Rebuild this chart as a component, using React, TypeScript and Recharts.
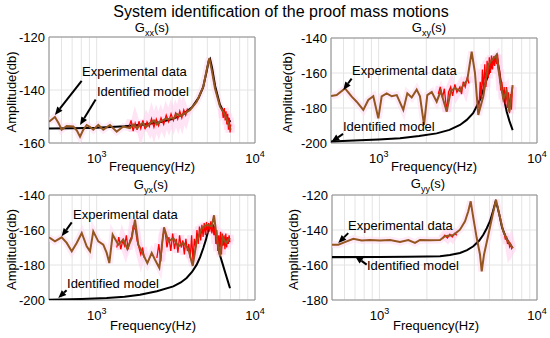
import React from 'react';
import { LineChart, Line, XAxis, YAxis, CartesianGrid, ReferenceLine, ReferenceDot, ReferenceArea } from 'recharts';

type P = [number, number];

const FONT = '"Liberation Sans", Arial, Helvetica, sans-serif';
const W = 550;
const H = 338;

// ---- text ----
const mainTitle = 'System identification of the proof mass motions';
const yLabel = 'Amplitude(db)';
const xLabel = 'Frequency(Hz)';
const expLabel = 'Experimental data';
const modelLabel = 'Identified model';

// ---- axes ----
const freqTicks = [600, 700, 800, 900, 1000, 2000, 3000, 4000, 5000, 6000, 7000, 8000, 9000, 10000];
const freqLabelTicks = [1000, 10000];
const xDomain = [500, 10000];

// ---- Gxx ----
const gxxExp: P[] = [[500,-152],[545,-150.2],[575,-152.5],[601,-155],[647,-153.6],[712,-153.8],[750,-155.3],[785,-157.6],[820,-155.2],[865,-153.2],[910,-154],[952,-155],[1024,-153.2],[1101,-155],[1160,-154],[1214,-153.2],[1338,-155.7],[1473,-153.8],[1624,-154.4],[1700,-153],[1800,-154.5],[1878,-153.2],[1960,-152.5],[2050,-154],[2173,-152.6],[2300,-151.5],[2400,-153],[2512,-152],[2700,-151],[2906,-150.8],[3100,-150.5],[3200,-149],[3360,-149.8],[3600,-148.8],[3888,-147.5],[4284,-144.4],[4717,-138.7],[4953,-132.4],[5145,-128],[5328,-132.4],[5590,-139.4],[6012,-146.3],[6468,-149.4],[6786,-152.6],[7026,-155]];
const gxxRedA: P[] = [[1600,-154],[1650,-151.5],[1700,-155.5],[1750,-152.5],[1800,-155],[1850,-151.8],[1900,-154.5],[1960,-151.5],[2020,-154.8],[2080,-152],[2150,-153.8],[2220,-150.8],[2300,-154],[2380,-151],[2460,-153.5],[2550,-150.5],[2650,-153],[2750,-149.5],[2850,-152],[2950,-149],[3050,-151.5],[3150,-148.8],[3250,-151],[3350,-148],[3450,-150.5],[3550,-147.5],[3650,-149.5],[3750,-147]];
const gxxRedB: P[] = [[6200,-147],[6300,-150.5],[6400,-146.8],[6480,-151.5],[6560,-148],[6640,-153],[6720,-149],[6800,-155],[6880,-150.5],[6960,-156],[7020,-153]];
const gxxModel: P[] = [[500,-154.5],[700,-154.4],[1000,-154.2],[1500,-153.7],[2000,-153],[2500,-152.2],[3000,-151],[3500,-149.3],[4000,-146.5],[4400,-143],[4700,-139],[4950,-133],[5100,-129],[5200,-128.3],[5350,-131.5],[5600,-138.5],[6000,-145.5],[6500,-149.6],[7000,-152]];

// ---- Gxy ----
const gxyExp: P[] = [[500,-173.1],[543,-172.6],[613,-168.8],[676,-173.5],[726,-176.4],[800,-181.1],[860,-175.4],[925,-173.3],[995,-185.9],[1045,-173.3],[1124,-171.6],[1209,-173.3],[1301,-172.6],[1431,-181.1],[1517,-171.6],[1617,-174],[1738,-169.5],[1824,-173.3],[1934,-189.7],[2028,-172.6],[2164,-170.9],[2325,-176.4],[2464,-170.3],[2691,-182.1],[2852,-170.3],[3034,-168.6],[3264,-170.3],[3424,-166.9],[3628,-164],[3868,-147.8],[4058,-160],[4258,-184],[4580,-173.3],[4927,-155.4],[5174,-152.6],[5567,-149.7],[5840,-164],[6128,-174.9],[6434,-170.3],[6684,-182],[7020,-166.9]];
const gxyRedA: P[] = [[2380,-172],[2450,-168],[2530,-174],[2600,-169],[2690,-182],[2760,-171],[2850,-168],[2930,-173],[3030,-166.5],[3120,-171],[3260,-168],[3340,-172],[3420,-165],[3520,-168],[3630,-162.5],[3720,-166]];
const gxyRedB: P[] = [[4300,-180],[4380,-165],[4450,-175],[4520,-158],[4600,-170],[4680,-155],[4760,-168],[4840,-153],[4920,-163],[5000,-151],[5080,-160],[5160,-150],[5240,-158],[5320,-150.5],[5400,-156],[5480,-150],[5560,-155],[5640,-149.5],[5720,-160],[5800,-158],[5900,-170],[6000,-165],[6100,-175],[6200,-168],[6300,-178],[6400,-168],[6500,-180],[6600,-171],[6700,-183],[6800,-172],[6900,-181],[7000,-168]];
const gxyModel: P[] = [[500,-199.2],[700,-198.6],[1000,-198],[1364,-197.3],[1800,-196],[2325,-194.5],[2800,-192.5],[3264,-189.7],[3600,-186.8],[3950,-183],[4360,-175.4],[4800,-164],[5100,-157],[5360,-153],[5567,-150],[5750,-158],[5990,-168.7],[6200,-175],[6434,-182],[6700,-187.5],[7020,-192.6]];

// ---- Gyx ----
const gyxExp: P[] = [[500,-164.2],[545,-166.5],[601,-164.2],[647,-167.4],[696,-172.2],[748,-167.4],[805,-161.7],[865,-169.3],[908,-172.2],[952,-160.8],[1024,-166.5],[1101,-168.4],[1157,-173.1],[1202,-178.9],[1262,-162.7],[1370,-168.4],[1473,-165.5],[1562,-170.8],[1665,-164.7],[1747,-154.1],[1833,-168.4],[1925,-172.2],[2090,-178.9],[2227,-173.1],[2337,-177],[2487,-181.7],[2664,-158.5],[2835,-166.5],[3049,-164.7],[3280,-169.3],[3526,-167.4],[3792,-170.8],[4042,-180.5],[4284,-166.5],[4608,-158.9],[4953,-157],[5328,-157.9],[5512,-151.6],[5731,-164.2],[6012,-175],[6250,-164.2],[6558,-167.4],[6952,-164.7]];
const gyxRedA: P[] = [[1340,-170],[1380,-164],[1420,-171],[1460,-166],[1500,-169],[1540,-163],[1580,-171],[1620,-166],[1660,-164],[1700,-158],[1760,-160],[1800,-166],[1850,-170],[1900,-174],[1950,-170],[2000,-176]];
const gyxRedB: P[] = [[2400,-176],[2470,-168],[2540,-178],[2620,-163],[2700,-160],[2780,-170],[2860,-164],[2940,-172],[3020,-162],[3100,-171],[3180,-165],[3260,-173],[3340,-163],[3420,-170],[3500,-166],[3580,-174],[3660,-165],[3740,-172],[3820,-168],[3900,-176],[3980,-163],[4060,-178],[4140,-165],[4220,-170],[4300,-160],[4380,-168],[4460,-158],[4540,-166],[4620,-157],[4700,-164],[4780,-156],[4860,-163],[4940,-155.5],[5020,-162],[5100,-156],[5180,-161],[5260,-155],[5340,-162],[5420,-157],[5500,-163],[5580,-158],[5660,-168],[5740,-160],[5820,-172],[5900,-163],[5980,-170],[6060,-161],[6140,-174],[6220,-162],[6300,-169],[6380,-163],[6460,-171],[6540,-162],[6620,-170],[6700,-164],[6780,-168],[6860,-163],[6940,-167]];
const gyxModel: P[] = [[500,-199.8],[800,-199.4],[1157,-198.9],[1500,-198.2],[1878,-197],[2400,-195],[3049,-192.2],[3400,-190],[3700,-187.4],[4000,-184],[4284,-179.8],[4500,-175.5],[4717,-170.3],[4900,-165.5],[5050,-160.8],[5200,-157.5],[5350,-156.5],[5500,-158.5],[5700,-164],[6012,-174.5],[6250,-179.5],[6468,-184],[6700,-188.5],[6952,-193.3]];

// ---- Gyy ----
const gyyExp: P[] = [[500,-148.4],[548,-148.4],[620,-146.5],[683,-145],[772,-146],[871,-145.7],[1009,-146],[1167,-145.7],[1351,-146.9],[1525,-145.7],[1682,-147.4],[1809,-145.7],[2094,-145.9],[2424,-145.7],[2608,-143.6],[2944,-142.9],[3244,-139.8],[3493,-135],[3664,-129.3],[3795,-123.6],[3943,-133.1],[4145,-144.6],[4349,-154.1],[4458,-163.6],[4609,-154.1],[4908,-142.9],[5237,-131.2],[5495,-122.7],[5766,-131.2],[6110,-140.8],[6482,-146],[7014,-150.3]];
const gyyRedA: P[] = [[2500,-145],[2600,-143],[2700,-144.5],[2800,-142.5],[2900,-144],[3000,-142],[3100,-143]];
const gyyRedB: P[] = [[6200,-142],[6300,-145.5],[6400,-143.5],[6500,-148],[6600,-146],[6700,-149.5],[6800,-148],[6900,-150.5],[7000,-149.5]];
const gyyModel: P[] = [[500,-155.5],[1000,-155.4],[1500,-155.3],[2000,-155.2],[2424,-155],[2800,-154.3],[3244,-153.1],[3600,-151.5],[3943,-149.3],[4300,-146],[4563,-142.7],[4800,-139],[5032,-135],[5250,-129.5],[5450,-124],[5600,-126.5],[5766,-131.2],[6000,-138.5],[6300,-143.5],[6600,-147],[7014,-150.3]];

// ---- annotations (data coordinates): text position, arrow tail, arrow head ----
const gxxAnn = { expText: [808, -134.7], expFrom: [804, -136.6], expTo: [545, -149.4], modText: [1005, -142.3], modFrom: [985, -143.6], modTo: [785, -153.2] };
const gxyAnn = { expText: [679, -161.1], expFrom: [675, -163.2], expTo: [598, -169.7], modText: [595, -193.1], modFrom: [596, -194.8], modTo: [503, -199.3] };
const gyxAnn = { expText: [709, -153.7], expFrom: [696, -155.6], expTo: [601, -163.6], modText: [650, -193.1], modFrom: [646, -194.4], modTo: [572, -198.9] };
const gyyAnn = { expText: [632, -140], expFrom: [634, -141.8], expTo: [548, -147.4], modText: [834, -162.9], modFrom: [830, -159.8], modTo: [700, -155] };

const panels = [
  { sub: 'xx', left: 49, right: 255, top: 37, bottom: 143, yDomain: [-160, -120], yTicks: [-160, -140, -120], exp: gxxExp, reds: [gxxRedA, gxxRedB], model: gxxModel, ann: gxxAnn,
    titleX: 152, titleY: 32, yLabX: 16, xLabX: 152, xLabY: 171 },
  { sub: 'xy', left: 331, right: 537, top: 38, bottom: 143, yDomain: [-200, -140], yTicks: [-200, -180, -160, -140], exp: gxyExp, reds: [gxyRedA, gxyRedB], model: gxyModel, ann: gxyAnn,
    titleX: 429, titleY: 32, yLabX: 292, xLabX: 434, xLabY: 171 },
  { sub: 'yx', left: 49, right: 255, top: 195, bottom: 300, yDomain: [-200, -140], yTicks: [-200, -180, -160, -140], exp: gyxExp, reds: [gyxRedA, gyxRedB], model: gyxModel, ann: gyxAnn,
    titleX: 151, titleY: 189, yLabX: 16, xLabX: 153, xLabY: 330 },
  { sub: 'yy', left: 332, right: 537, top: 195, bottom: 300, yDomain: [-180, -120], yTicks: [-180, -160, -140, -120], exp: gyyExp, reds: [gyyRedA, gyyRedB], model: gyyModel, ann: gyyAnn,
    titleX: 428, titleY: 188, yLabX: 298, xLabX: 436, xLabY: 330 },
];

const toPts = (a: P[]) => a.map(([f, v]) => ({ f, v }));

const XTick = (props: any) => {
  const { x, y, payload } = props;
  if (!freqLabelTicks.includes(payload.value)) return <g />;
  const exp = Math.round(Math.log10(payload.value));
  return (
    <text x={x} y={y + 20} textAnchor="middle" fontSize={13} fontFamily={FONT} fill="#000">
      10<tspan dy={-6} fontSize={9}>{exp}</tspan>
    </text>
  );
};

const Arrow = (p: any) => {
  const { x1, y1, x2, y2 } = p;
  if ([x1, y1, x2, y2].some((v) => v == null || isNaN(v))) return <g />;
  const dx = x2 - x1;
  const dy = y2 - y1;
  const len = Math.hypot(dx, dy) || 1;
  const ux = dx / len;
  const uy = dy / len;
  const hl = Math.min(8, len * 0.7);
  const hw = 3.3;
  const bx = x2 - ux * hl;
  const by = y2 - uy * hl;
  return (
    <g>
      <line x1={x1} y1={y1} x2={bx} y2={by} stroke="#000" strokeWidth={2} />
      <polygon points={`${x2},${y2} ${bx - uy * hw},${by + ux * hw} ${bx + uy * hw},${by - ux * hw}`} fill="#000" />
    </g>
  );
};

const makeText = (label: string) => (p: any) => (
  <text x={p.cx} y={p.cy} fontSize={13} fontFamily={FONT} fill="#000">{label}</text>
);

function Panel({ cfg }: { cfg: any }) {
  const { left, right, top, bottom, yDomain, yTicks, exp, reds, model, ann } = cfg;
  const xh = 30;
  return (
    <div style={{ position: 'absolute', left: 0, top: 0 }}>
      <LineChart width={W} height={H} margin={{ left: 0, top, right: W - right, bottom: H - bottom - xh }}>
        <CartesianGrid stroke="#e4e4e4" strokeWidth={1} />
        <XAxis dataKey="f" type="number" scale="log" domain={xDomain} ticks={freqTicks} interval={0} allowDataOverflow
          tick={(p: any) => <XTick {...p} />} tickLine={false} axisLine={false} tickSize={0} tickMargin={0} height={xh} />
        <YAxis type="number" domain={yDomain} ticks={yTicks} interval={0} allowDataOverflow width={left}
          tickLine={false} axisLine={false} tickSize={4} tickMargin={0}
          tick={{ fill: '#000', fontSize: 13, fontFamily: FONT }} />
        <Line data={toPts(exp)} dataKey="v" stroke="#ffd8f2" strokeOpacity={0.55} strokeWidth={7} dot={false} activeDot={false} isAnimationActive={false} />
        {reds.map((r: P[], i: number) => (
          <Line key={'pr' + i} data={toPts(r)} dataKey="v" stroke="#ffcdef" strokeOpacity={0.55} strokeWidth={9} dot={false} activeDot={false} isAnimationActive={false} />
        ))}
        <Line data={toPts(model)} dataKey="v" stroke="#000" strokeWidth={2} dot={false} activeDot={false} isAnimationActive={false} />
        {reds.map((r: P[], i: number) => (
          <Line key={'r' + i} data={toPts(r)} dataKey="v" stroke="#ff0000" strokeWidth={1.3} dot={false} activeDot={false} isAnimationActive={false} />
        ))}
        <Line data={toPts(exp)} dataKey="v" stroke="#93561f" strokeWidth={2} dot={false} activeDot={false} isAnimationActive={false} />
        <ReferenceArea x1={xDomain[0]} x2={xDomain[1]} y1={yDomain[0]} y2={yDomain[1]} fill="none" stroke="#8c8c8c" strokeWidth={1} />
        <ReferenceLine segment={[{ x: ann.expFrom[0], y: ann.expFrom[1] }, { x: ann.expTo[0], y: ann.expTo[1] }]} shape={(p: any) => <Arrow {...p} />} />
        <ReferenceLine segment={[{ x: ann.modFrom[0], y: ann.modFrom[1] }, { x: ann.modTo[0], y: ann.modTo[1] }]} shape={(p: any) => <Arrow {...p} />} />
        <ReferenceDot x={ann.expText[0]} y={ann.expText[1]} r={0} shape={makeText(expLabel)} />
        <ReferenceDot x={ann.modText[0]} y={ann.modText[1]} r={0} shape={makeText(modelLabel)} />
      </LineChart>
    </div>
  );
}

export default function App() {
  return (
    <div style={{ position: 'absolute', left: 0, top: 0, width: W, height: H, background: '#fff', overflow: 'hidden' }}>
      {panels.map((p, i) => <Panel key={i} cfg={p} />)}
      <svg width={W} height={H} style={{ position: 'absolute', left: 0, top: 0, pointerEvents: 'none' }} fontFamily={FONT}>
        <text x={281} y={17} fontSize={16} textAnchor="middle" fill="#000">{mainTitle}</text>
        {panels.map((p, i) => (
          <g key={i}>
            <text x={p.titleX} y={p.titleY} fontSize={13} textAnchor="middle" fill="#000">
              G<tspan fontSize={9} dy={4}>{p.sub}</tspan><tspan dy={-4}>(s)</tspan>
            </text>
            <text transform={`translate(${p.yLabX},${(p.top + p.bottom) / 2 + 2}) rotate(-90)`} fontSize={13} textAnchor="middle" fill="#000">{yLabel}</text>
            <text x={p.xLabX} y={p.xLabY} fontSize={13} textAnchor="middle" fill="#000">{xLabel}</text>
          </g>
        ))}
      </svg>
    </div>
  );
}
